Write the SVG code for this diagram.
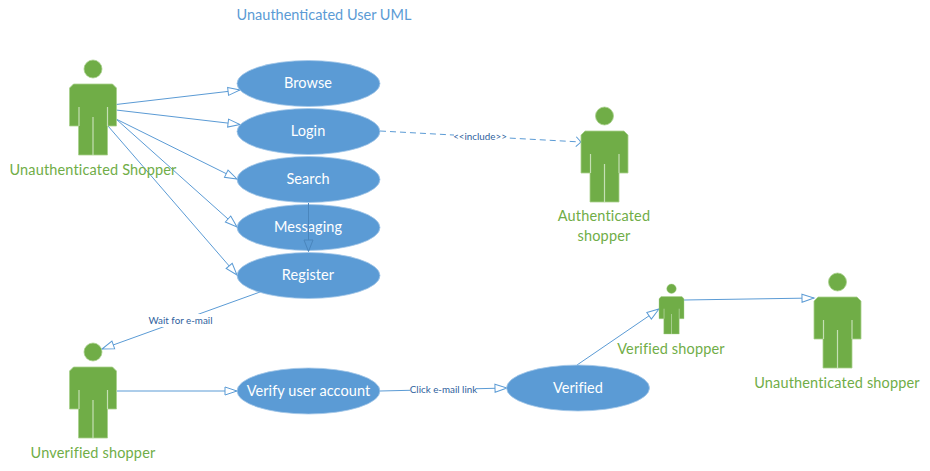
<svg xmlns="http://www.w3.org/2000/svg" width="930" height="471" viewBox="0 0 930 471">
<style>
text{font-family:"Lato","Carlito","Open Sans",sans-serif;text-anchor:middle}
.uc{fill:#5b9bd5;stroke:#a5c8e8;stroke-width:.8}
.ut{fill:#fff;font-size:14.5px;letter-spacing:.08px}
.at{fill:#70ad47;font-size:14.5px;letter-spacing:.16px}
.body{fill:#70ad47;stroke:#a9d18e;stroke-width:.8}
.sep{stroke:#c5e0b4;stroke-width:1.2;fill:none}
.c{fill:none;stroke:#5b9bd5;stroke-width:1;marker-end:url(#tri)}
.lb{fill:#2f5f9e;font-size:9.8px}
.bg{fill:#fff}
</style>
<defs>
<marker id="tri" markerUnits="userSpaceOnUse" markerWidth="16" markerHeight="12" refX="13" refY="5" orient="auto" overflow="visible"><path d="M1,1 L13,5 L1,9 Z" fill="#fff" stroke="#5b9bd5" stroke-width="1"/></marker>
<marker id="open" markerUnits="userSpaceOnUse" markerWidth="10" markerHeight="12" refX="7" refY="5" orient="auto" overflow="visible"><path d="M2,0 L7,5 L2,10" fill="none" stroke="#5b9bd5" stroke-width="1"/></marker>
<g id="actor">
<circle cx="23.5" cy="9" r="9" class="body"/>
<path class="body" d="M4,24 H43 L47,28 V66 H38 V95 H9 V66 H0 V28 Z"/>
<path class="sep" d="M9.5,47 V66 M38,47 V66 M23.5,57 V95"/>
</g>
</defs>
<text x="324" y="20" fill="#5b9bd5" style="font-size:14.5px">Unauthenticated User UML</text>
<g id="connectors">
<path class="c" d="M116,104.500 L240,90"/>
<path class="c" d="M116,110 L240,124.500"/>
<path class="c" d="M116,119 L237,179"/>
<path class="c" d="M116,119 L237,227"/>
<path class="c" d="M108,126 L237,275"/>
<path class="c" d="M260,292 L102,349"/>
<path class="c" d="M117,391 L237,391"/>
<path class="c" d="M380,391 L507,388"/>
<path class="c" d="M577,365 L659,309"/>
<path class="c" d="M684,300 L814,298"/>
<path d="M380,131 L581,142" fill="none" stroke="#5b9bd5" stroke-width="1" stroke-dasharray="6 4" marker-end="url(#open)"/>
</g>
<g id="browse"><ellipse class="uc" cx="308.500" cy="83.500" rx="71.500" ry="23"/><text class="ut" x="308" y="88">Browse</text></g>
<g id="login"><ellipse class="uc" cx="308.500" cy="131.500" rx="71.500" ry="23"/><text class="ut" x="308" y="136">Login</text></g>
<g id="search"><ellipse class="uc" cx="308.500" cy="179.500" rx="71.500" ry="23"/><text class="ut" x="308" y="184">Search</text></g>
<g id="messaging"><ellipse class="uc" cx="308.500" cy="227.500" rx="71.500" ry="23"/><text class="ut" x="308" y="232">Messaging</text></g>
<g id="register"><ellipse class="uc" cx="308.500" cy="275.500" rx="71.500" ry="23"/><text class="ut" x="308" y="280">Register</text></g>
<g id="verify"><ellipse class="uc" cx="308.500" cy="391" rx="71.500" ry="23"/><text class="ut" x="308.500" y="396">Verify user account</text></g>
<g id="verified"><ellipse class="uc" cx="578" cy="388" rx="71.500" ry="23"/><text class="ut" x="578" y="393">Verified</text></g>
<g id="connector-overlay">
<path d="M308.500,203 V240" stroke="#4a86bd" stroke-width="1" fill="none"/>
<path d="M304,240 H313 L308.500,251.500 Z" fill="#5b9bd5" stroke="#4a86bd" stroke-width="1"/>
</g>
<g id="labels">
<rect class="bg" x="146" y="314" width="69" height="13"/><text class="lb" x="180.500" y="324">Wait for e-mail</text>
<rect class="bg" x="410" y="384" width="67" height="12"/><text class="lb" x="443.500" y="393">Click e-mail link</text>
<rect class="bg" x="454" y="131" width="53" height="11"/><text class="lb" x="480" y="140">&lt;&lt;include&gt;&gt;</text>
</g>
<g id="actor-unauth"><use href="#actor" x="69.500" y="60"/><text class="at" x="93" y="175">Unauthenticated Shopper</text></g>
<g id="actor-auth"><use href="#actor" x="581" y="107"/><text class="at" x="604" y="221">Authenticated</text><text class="at" x="604" y="241">shopper</text></g>
<g id="actor-unverified"><use href="#actor" x="69.500" y="343"/><text class="at" x="93" y="458">Unverified shopper</text></g>
<g id="actor-verified"><use href="#actor" transform="translate(659,284) scale(.532,.526)"/><text class="at" x="671" y="354">Verified shopper</text></g>
<g id="actor-unauth2"><use href="#actor" x="814" y="273"/><text class="at" x="837" y="388">Unauthenticated shopper</text></g>
</svg>
